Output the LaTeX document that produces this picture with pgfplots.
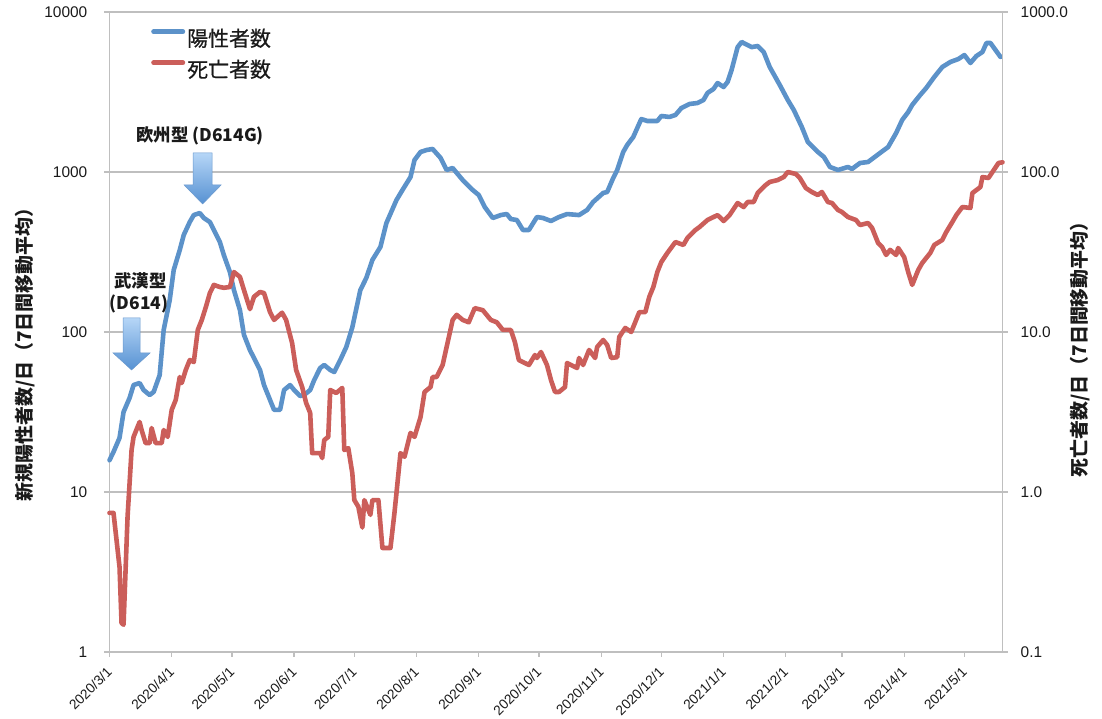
\documentclass[border=0pt]{standalone}
\usepackage{fontspec}
\setmainfont{Liberation Sans}
\newfontfamily\cjk{Noto Sans CJK JP}
\newfontfamily\cjkmed[FakeBold=0.5]{Noto Sans CJK JP}
\usepackage{pgfplots}
\usepackage{pgfplotstable}
\pgfplotsset{compat=1.18}
\definecolor{sblue}{RGB}{92,146,201}
\definecolor{sred}{RGB}{203,94,90}
\definecolor{gridgray}{RGB}{191,191,191}
\definecolor{arrtop}{RGB}{182,214,247}
\definecolor{arrbot}{RGB}{86,145,210}
\definecolor{arredge}{RGB}{105,152,205}
\definecolor{txt}{RGB}{26,26,26}

\pgfplotstableread{
day val
0 15.8
2 17.8
5 21.8
7 31.6
10 38.7
12 46.6
15 48.0
17 43.4
20 40.4
22 42.2
25 53.8
27 103
30 158
32 244
35 325
37 404
40 487
42 538
45 554
47 516
50 487
52 434
55 365
57 302
60 237
62 183
65 137
67 96
70 77
72 68.8
75 57.9
77 46.6
80 37.6
82 32.6
85 32.6
87 43.4
90 46.6
92 43.4
95 39.8
97 40.4
100 43.4
102 50.1
105 59.6
107 62.2
110 57.9
112 56.2
115 66.8
118 80.6
121 107
125 183
128 218
131 282
135 340
138 480
143 668
146 772
150 930
152 1189
155 1334
158 1372
161 1393
165 1224
168 1029
171 1059
176 891
181 772
184 718
187 604
191 516
195 538
198 546
200 508
203 501
206 434
209 434
213 523
216 516
220 494
224 523
228 546
234 538
238 579
241 649
246 739
248 750
251 917
253 1029
256 1334
258 1476
261 1655
265 2143
268 2083
273 2083
275 2239
279 2208
282 2270
285 2512
289 2661
293 2698
296 2818
298 3119
301 3303
303 3597
306 3397
308 3652
310 4341
313 6030
315 6494
320 6030
323 6131
326 5623
329 4530
334 3499
338 2818
341 2441
345 1910
348 1540
353 1334
356 1241
359 1075
363 1029
368 1075
370 1045
374 1138
378 1155
384 1315
388 1433
392 1753
395 2113
398 2371
400 2624
404 3030
407 3350
411 3926
415 4530
419 4870
423 5082
426 5383
429 4800
432 5309
435 5623
437 6399
439 6399
444 5236
}\positive

\pgfplotstableread{
day val
0 0.74
2 0.74
5 0.34
6 0.152
7 0.148
9 0.70
11 1.83
12 2.21
15 2.74
16 2.44
18 2.02
20 2.02
21 2.51
23 2.02
26 2.02
27 2.44
29 2.21
31 3.26
33 3.76
35 5.23
36 4.80
38 5.79
40 6.68
42 6.49
44 10.3
46 11.9
48 14.3
50 17.5
52 19.7
55 19.1
57 18.9
60 19.1
62 23.7
65 22.1
67 18.3
70 13.9
72 16.6
75 17.8
77 17.5
80 13.3
82 11.9
86 13.2
88 11.9
91 8.53
93 5.79
96 4.53
98 3.60
100 3.12
101 1.75
105 1.75
106 1.63
107 2.11
109 2.21
110 4.34
113 4.16
116 4.47
117 1.83
119 1.88
121 1.31
122 0.89
124 0.81
126 0.60
127 0.89
130 0.72
131 0.89
134 0.89
136 0.447
140 0.447
142 0.74
145 1.75
147 1.66
150 2.34
152 2.21
155 2.94
157 4.22
160 4.53
161 5.23
163 5.23
166 6.22
168 8.06
171 11.9
173 12.8
176 11.9
179 11.5
182 14.1
186 13.7
190 11.9
193 11.5
196 10.3
200 10.3
202 8.66
204 6.68
206 6.49
209 6.22
212 7.18
213 6.88
215 7.50
218 6.22
220 5.01
222 4.22
224 4.22
227 4.53
228 6.40
233 5.96
234 6.88
236 6.22
239 7.72
242 6.88
243 8.06
246 8.91
248 8.30
250 6.88
253 6.96
254 9.30
257 10.6
260 10.0
263 12.4
264 13.3
267 13.3
269 16.6
271 19.1
273 23.7
275 27.4
278 31.2
282 36.5
286 35.0
288 38.7
292 43.4
294 45.3
298 50.1
301 52.3
303 53.8
306 49.4
309 53.8
313 64.0
316 60.4
318 64.9
321 64.9
323 73.9
327 82.9
329 86.6
333 89.1
336 93.0
338 100
342 97.2
344 91.7
347 79.4
350 75.0
353 71.8
355 75.0
358 64.9
360 64.0
363 57.9
365 56.2
368 52.3
372 50.1
374 46.6
378 48.0
380 44.7
383 36.0
385 34.0
387 30.3
389 32.6
392 30.3
393 33.5
396 29.4
398 23.7
400 19.7
403 24.4
405 27.0
409 31.2
411 35.0
415 37.6
417 42.2
420 48.7
422 53.8
425 60.4
429 59.6
430 73.9
434 80.6
435 93.0
438 91.7
440 100
443 113.8
445 115
}\deaths

\begin{document}
\begin{tikzpicture}
\path[use as bounding box] (-109.5bp,-67bp) rectangle (992.5bp,652bp);
\begin{axis}[
  scale only axis, width=893bp, height=640bp,
  xmin=0, xmax=445, ymode=log,
  at={(0,0)}, anchor=south west,
  clip=false,
  yminorticks=false,
  axis line style={draw=gridgray, line width=1.3bp},
  tick align=outside,
  major tick length=5bp,
  tick style={draw=gridgray, line width=1.3bp},
  ymin=1, ymax=10000,
  axis x line*=bottom, axis y line*=left,
  ytick={1,10,100,1000,10000}, yticklabels={1,10,100,1000,10000},
  yticklabel style={font=\fontsize{15.5}{18}\selectfont, text=txt, inner sep=0pt, anchor=east, xshift=-17bp},
  xtick={0,31,61,92,122,153,184,214,245,275,306,337,365,396,426},
  xticklabels={2020/3/1,2020/4/1,2020/5/1,2020/6/1,2020/7/1,2020/8/1,2020/9/1,2020/10/1,2020/11/1,2020/12/1,2021/1/1,2021/2/1,2021/3/1,2021/4/1,2021/5/1},
  xticklabel style={font=\fontsize{13.8}{16}\selectfont, text=txt, xshift=0bp, yshift=-12.5bp, rotate=45, anchor=east, inner sep=0pt},
  ymajorgrids, major grid style={draw=gridgray, line width=1.3bp},
]
\addplot[sblue, line width=4.6bp, line join=round, line cap=round] table[x=day, y=val] {\positive};
\coordinate (tipA) at (axis cs:46.4,631);
\coordinate (tipB) at (axis cs:11,57.9);
\node[font=\cjk\bfseries\fontsize{17.5}{20}\selectfont, text=txt, inner sep=0pt] at (axis cs:45.1,1679) {欧州型 (D614G)};
\node[font=\cjk\bfseries\fontsize{17.5}{20}\selectfont, text=txt, inner sep=0pt] at (axis cs:15.5,208) {武漢型};
\node[font=\cjk\bfseries\fontsize{17.5}{20}\selectfont, text=txt, inner sep=0pt] at (axis cs:14.7,150) {(D614)};
\node[rotate=90, font=\cjk\bfseries\fontsize{19}{22}\selectfont, text=txt, inner sep=0pt] at (rel axis cs:-0.0946,0.472) {新規陽性者数/日（7日間移動平均）};
\end{axis}
\begin{axis}[
  scale only axis, width=893bp, height=640bp,
  xmin=0, xmax=445, ymode=log,
  at={(0,0)}, anchor=south west,
  clip=false,
  yminorticks=false,
  axis line style={draw=gridgray, line width=1.3bp},
  tick align=outside,
  major tick length=5bp,
  tick style={draw=gridgray, line width=1.3bp},
  ymin=0.1, ymax=1000,
  axis x line=none, axis y line*=right,
  ytick={0.1,1,10,100,1000}, yticklabels={0.1,1.0,10.0,100.0,1000.0},
  yticklabel style={font=\fontsize{15.5}{18}\selectfont, text=txt, inner sep=0pt, anchor=west, xshift=13bp},
  legend cell align=left,
  legend image code/.code={\draw[#1, line cap=round] (2.3bp,8bp) -- (31.7bp,8bp);},
  legend style={at={(rel axis cs:0.0465,0.9735)}, anchor=north west, draw=none, fill=none, inner sep=0pt,
    row sep=10bp, column sep=2bp,
    font=\cjkmed\fontsize{21}{24}\selectfont, text=txt,
    nodes={inner sep=0pt, text height=17bp, text depth=4bp}},
]
\addlegendimage{sblue, line width=4.6bp}
\addlegendentry{陽性者数}
\addplot[sred, line width=4.6bp, line join=round, line cap=round] table[x=day, y=val] {\deaths};
\addlegendentry{死亡者数}
\node[rotate=90, font=\cjk\bfseries\fontsize{19}{22}\selectfont, text=txt, inner sep=0pt] at (rel axis cs:1.0868,0.48) {死亡者数/日（7日間移動平均）};
\end{axis}
\shade[shift={(tipA)}, top color=arrtop, bottom color=arrbot, draw=arredge, line width=0.5bp]
  (-9.5bp,51bp) -- (9.5bp,51bp) -- (9.5bp,19bp) -- (18.5bp,19bp) -- (0bp,0bp) -- (-18.5bp,19bp) -- (-9.5bp,19bp) -- cycle;
\shade[shift={(tipB)}, top color=arrtop, bottom color=arrbot, draw=arredge, line width=0.5bp]
  (-8.5bp,52bp) -- (8.5bp,52bp) -- (8.5bp,17bp) -- (18.5bp,17bp) -- (0bp,0bp) -- (-18.5bp,17bp) -- (-8.5bp,17bp) -- cycle;
\end{tikzpicture}
\end{document}
